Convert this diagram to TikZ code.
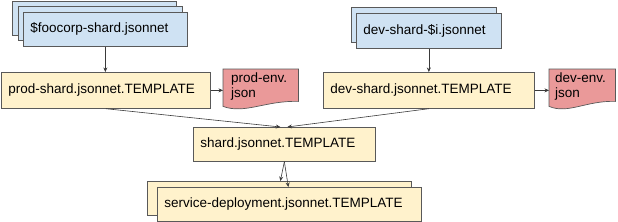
\documentclass[tikz,border=0pt]{standalone}
\usepackage{fontspec}
\setmainfont{Liberation Sans}
\usetikzlibrary{calc,arrows.meta}
\definecolor{bluefill}{HTML}{CFE2F3}
\definecolor{yellowfill}{HTML}{FFF2CC}
\definecolor{redfill}{HTML}{EA9999}
\definecolor{bordergray}{HTML}{595959}
\definecolor{linegray}{HTML}{3A3A3A}
\begin{document}
\begin{tikzpicture}[x=1pt,y=-1pt,
  font=\fontsize{13.5pt}{15pt}\selectfont,
  box/.style={draw=bordergray, line width=0.7pt, rectangle, anchor=north west,
    inner xsep=7pt, inner ysep=0pt, align=left},
  bluebox/.style={box, fill=bluefill},
  yelbox/.style={box, fill=yellowfill},
  docnode/.style={rectangle, anchor=north west, inner ysep=0pt, align=left},
  docshape/.style={draw=bordergray, line width=0.7pt, fill=redfill},
  conn/.style={draw=linegray, line width=0.6pt, -{Stealth[length=4.5pt,width=4pt]}}
]
\useasboundingbox (0,0) rectangle (618,222);

% left blue stack
\node[bluebox, text width=150pt, minimum height=34pt] (lb3) at (12,1) {};
\node[bluebox, text width=150pt, minimum height=34pt] (lb2) at (17.5,6.5) {};
\node[bluebox, text width=150pt, minimum height=34pt] (lb1) at (23,12) {\$foocorp-shard.jsonnet};

% right blue stack
\node[bluebox, text width=131pt, minimum height=35pt] (rb2) at (351,7) {};
\node[bluebox, text width=131pt, minimum height=35pt] (rb1) at (356,13) {dev-shard-\$i.jsonnet};

% template boxes
\node[yelbox, text width=195pt, minimum height=36pt] (prod) at (1,72) {prod-shard.jsonnet.TEMPLATE};
\node[yelbox, text width=197pt, minimum height=36pt] (dev) at (323,72) {dev-shard.jsonnet.TEMPLATE};
\node[yelbox, text width=168pt, minimum height=34pt] (shard) at (193,127) {shard.jsonnet.TEMPLATE};
\node[yelbox, text width=250pt, minimum height=34pt] (sback) at (147,181) {};
\node[yelbox, text width=250pt, minimum height=34pt] (sfront) at (157,187) {service-deployment.jsonnet.TEMPLATE};

% document shapes
\node[docnode, inner xsep=8pt, text width=59pt, minimum height=35pt] (pdoc) at (223,69) {};
\path[docshape] (pdoc.north west) -- (pdoc.north east) -- ($(pdoc.south east)+(0,-3)$)
  .. controls ($(pdoc.south east)+(-33,-4)$) and ($(pdoc.south west)+(22,10)$) .. ($(pdoc.south west)+(0,2)$) -- cycle;
\node[docnode, inner xsep=8pt, text width=59pt, minimum height=35pt] at (pdoc.north west) {prod-env.\\json};

\node[docnode, inner xsep=6pt, text width=54pt, minimum height=35pt] (ddoc) at (549,69) {};
\path[docshape] (ddoc.north west) -- (ddoc.north east) -- ($(ddoc.south east)+(0,-3)$)
  .. controls ($(ddoc.south east)+(-29,-4)$) and ($(ddoc.south west)+(19,10)$) .. ($(ddoc.south west)+(0,2)$) -- cycle;
\node[docnode, inner xsep=6pt, text width=54pt, minimum height=35pt] at (ddoc.north west) {dev-env.\\json};

% connectors
\draw[conn] (lb1.south) -- (lb1.south |- prod.north);
\draw[conn] (rb1.south) -- (rb1.south |- dev.north);
\draw[conn] (prod.east) -- (prod.east -| pdoc.west);
\draw[conn] (dev.east) -- (dev.east -| ddoc.west);
\draw[conn] (prod.south) -- ([xshift=-4pt]shard.north);
\draw[conn] (dev.south) -- ([xshift=3pt]shard.north);
\draw[conn] (shard.south) -- ([xshift=1pt]sback.north);
\draw[conn] (shard.south) -- ([xshift=-1pt]sfront.north);
\end{tikzpicture}
\end{document}
